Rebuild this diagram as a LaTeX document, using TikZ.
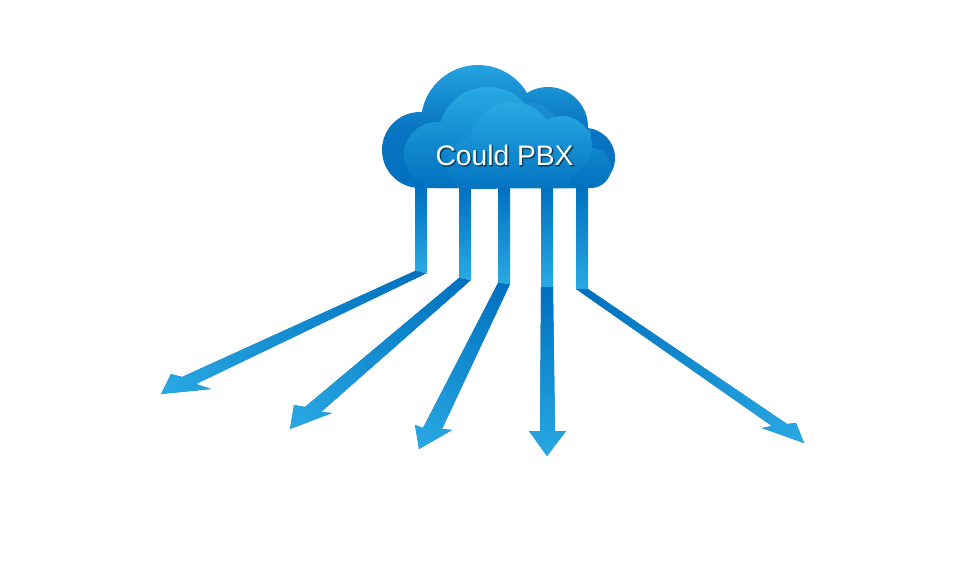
\documentclass[tikz,border=0pt]{standalone}
\usepackage{fontspec}
\setmainfont{Liberation Sans}
\font\glowa="Liberation Sans:embolden=4" at 28.2pt
\font\glowb="Liberation Sans:embolden=2" at 28.2pt
\definecolor{dk}{HTML}{0070BE}
\definecolor{lt}{HTML}{29A9E3}
\definecolor{mdk}{HTML}{0875C1}
\definecolor{lobe}{HTML}{1C90D4}
\definecolor{lobeb}{HTML}{0C78C4}
\tikzset{
  arrowfill/.style={bottom color=dk, middle color=dk!75!lt, top color=lt, draw=none},
  columnfill/.style={top color=dk, bottom color=lt, draw=none},
  backcloud/.style={top color=#1, bottom color=dk, middle color=mdk, draw=none},
  frontcloud/.style={top color=lt, bottom color=dk, draw=none},
  lobecloud/.style={top color=lobe, bottom color=lobeb, draw=none},
  cloudtext/.style={text=white, font=\fontsize{28.2}{32}\selectfont, anchor=base, inner sep=0pt},
  glow/.style={anchor=base, inner sep=0pt, text=black, text opacity=.22}
}
% centre x, centre y, half length, angle: an axial fade along the arrow
\newcommand{\arrowfade}[4]{%
  \fill[dk] (#1-200,#2-200) rectangle (#1+200,#2+200);
  \shade[arrowfill, transform canvas={rotate around={#4:(#1,#2)}}] (#1-70,#2-#3) rectangle (#1+70,#2+#3);
}
\begin{document}
\begin{tikzpicture}[x=1pt,y=-1pt]
\useasboundingbox (0,0) rectangle (960,560);
% columns
\shade[columnfill] (415,186) -- (427,186) -- (427,273) -- (415,271) -- cycle;
\shade[columnfill] (459,186) -- (471,186) -- (471,280) -- (459,278) -- cycle;
\shade[columnfill] (498,186) -- (510,186) -- (510,284) -- (498,283) -- cycle;
\shade[columnfill] (541,186) -- (553,186) -- (553,287) -- (541,287) -- cycle;
\shade[columnfill] (576,186) -- (588,186) -- (588,289) -- (576,289) -- cycle;
% arrows
\begin{scope}
\clip (415,271) -- (427,273) -- (196,384) -- (211,389) -- (161,394) -- (171,374) -- (182,377) -- cycle;
\arrowfade{291}{333}{143.5}{115.1}
\end{scope}
\begin{scope}
\clip (459,278) -- (471,280) -- (321,412) -- (332,413) -- (290,429) -- (294,405) -- (305,407) -- cycle;
\arrowfade{377.5}{354}{115.2}{130.6}
\end{scope}
\begin{scope}
\clip (498,283) -- (510,284) -- (442,429) -- (452,430) -- (419,449) -- (415,425) -- (423,428) -- cycle;
\arrowfade{461.5}{366}{93}{152.8}
\end{scope}
\begin{scope}
\clip (541,287) -- (553,287) -- (555,431) -- (566,431) -- (547,456) -- (529,431) -- (540,431) -- cycle;
\arrowfade{547}{371.5}{84.5}{180}
\end{scope}
\begin{scope}
\clip (588,289) -- (787,424) -- (796,423) -- (804,443) -- (762,428) -- (772,426) -- (576,289) -- cycle;
\arrowfade{693}{366}{135}{235.3}
\end{scope}
% cloud, back layer
\shade[backcloud={lt!90!dk}] (420,150) circle [radius=38] (478,122) circle [radius=57] (548,127) circle [radius=40] (585,158) circle [radius=30]
  (420,188) -- (420,125) -- (585,125) -- (585,188) -- cycle;
% cloud, middle layer
\shade[frontcloud] (437,155) circle [radius=33] (488,137) circle [radius=50] (591,168) circle [radius=20]
  (437,188) -- (437,130) -- (591,130) -- (591,188) -- cycle;
% darker lobe
\shade[lobecloud] (530,133) circle [radius=30];
% cloud, front layer
\begin{scope}
\clip (380,60) rectangle (620,188);
\shade[frontcloud] (512,144) circle [radius=42] (562,146) circle [radius=30] (478,165) circle [radius=30]
  (478,188) -- (478,146) -- (570,146) -- (570,188) -- cycle;
\end{scope}
% label
\node[glow] (shadowa) at (505.5,166) {\glowa Could PBX};
\node[glow] (shadowb) at (505.5,166) {\glowb Could PBX};
\node[cloudtext] (label) at (504.5,165) {Could PBX};
\end{tikzpicture}
\end{document}
